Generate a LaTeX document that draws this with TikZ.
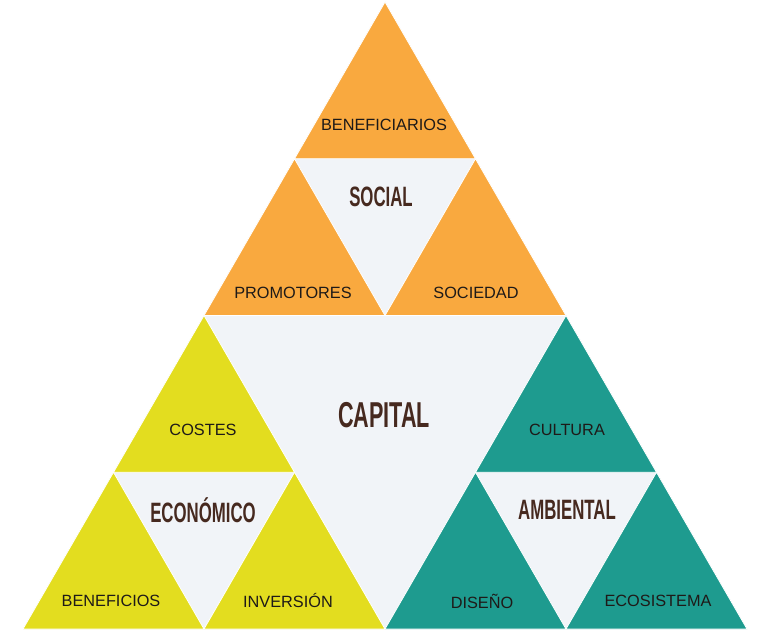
\documentclass[tikz,border=0pt]{standalone}
\usepackage{fontspec}
\setmainfont{Liberation Sans}
\usepackage{graphicx}
\definecolor{orangeT}{HTML}{F9A93F}
\definecolor{yellowT}{HTML}{E3DD1F}
\definecolor{tealT}{HTML}{1E9B8F}
\definecolor{lightT}{HTML}{F1F4F8}
\definecolor{headT}{HTML}{46291F}
\definecolor{labT}{HTML}{1E1A18}
\tikzset{
  tri/.style={draw=white, line width=0.8pt, line join=miter},
  lab/.style={text=labT, font=\fontsize{16.3}{16.3}\selectfont, inner sep=0pt, anchor=center},
  head/.style={text=headT, font=\bfseries\fontsize{28}{28}\selectfont, inner sep=0pt},
  bighead/.style={text=headT, font=\bfseries\fontsize{36}{36}\selectfont, inner sep=0pt}
}
\newcommand{\cond}[1]{\scalebox{0.6}[1]{#1}}
\begin{document}
\begin{tikzpicture}[x=1pt,y=-1pt]
\useasboundingbox (0,0) rectangle (757,631);
\fill[white] (0,0) rectangle (757,631);
% main vertices
\coordinate (A) at (385,2);
\coordinate (B) at (23,629);
\coordinate (C) at (747,629);
\coordinate (ab) at (204,315.5);
\coordinate (ac) at (566,315.5);
\coordinate (bc) at (385,629);
% top sub midpoints
\coordinate (t1) at (294.5,158.75);
\coordinate (t2) at (475.5,158.75);
% left sub midpoints
\coordinate (l1) at (113.5,472.25);
\coordinate (l2) at (294.5,472.25);
\coordinate (l3) at (204,629);
% right sub midpoints
\coordinate (r1) at (475.5,472.25);
\coordinate (r2) at (656.5,472.25);
\coordinate (r3) at (566,629);
% background
\fill[lightT] (A) -- (B) -- (C) -- cycle;
% social
\filldraw[tri, fill=orangeT] (A) -- (t1) -- (t2) -- cycle;
\filldraw[tri, fill=orangeT] (t1) -- (ab) -- (bc |- ab) -- cycle;
\filldraw[tri, fill=orangeT] (t2) -- (bc |- ab) -- (ac) -- cycle;
% economico
\filldraw[tri, fill=yellowT] (ab) -- (l1) -- (l2) -- cycle;
\filldraw[tri, fill=yellowT] (l1) -- (B) -- (l3) -- cycle;
\filldraw[tri, fill=yellowT] (l2) -- (l3) -- (bc) -- cycle;
% ambiental
\filldraw[tri, fill=tealT] (ac) -- (r1) -- (r2) -- cycle;
\filldraw[tri, fill=tealT] (r1) -- (bc) -- (r3) -- cycle;
\filldraw[tri, fill=tealT] (r2) -- (r3) -- (C) -- cycle;
% labels
\node[lab] (nbenef) at (384,125) {BENEFICIARIOS};
\node[lab] (nprom) at (293,293) {PROMOTORES};
\node[lab] (nsoc) at (476,293) {SOCIEDAD};
\node[lab] (ncost) at (203,430) {COSTES};
\node[lab] (ncult) at (567,430) {CULTURA};
\node[lab] (nbenf) at (111,601) {BENEFICIOS};
\node[lab] (ninv) at (288,601) {INVERSIÓN};
\node[lab] (ndis) at (482,601) {DISEÑO};
\node[lab] (neco) at (658,601) {ECOSISTEMA};
% headings
\node[head] (hsocial) at (381,197) {\cond{SOCIAL}};
\node[bighead] (hcap) at (384,415) {\cond{CAPITAL}};
\node[head, anchor=base] (hecon) at (203,522) {\cond{ECONÓMICO}};
\node[head] (hamb) at (567,510) {\cond{AMBIENTAL}};
\end{tikzpicture}
\end{document}
